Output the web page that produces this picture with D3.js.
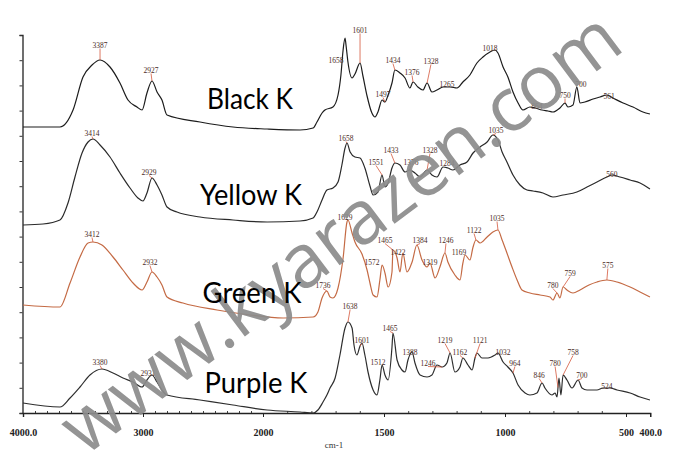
<!DOCTYPE html>
<html><head><meta charset="utf-8">
<script src="https://cdn.jsdelivr.net/npm/d3@7"></script>
<style>body{margin:0;background:#fff}svg{display:block}</style></head>
<body><svg id="chart" width="673" height="461"></svg>
<script>
// ---- data (wavenumber cm-1, relative intensity in stacked arbitrary units) ----
const xTickValues = [4000, 3000, 2000, 1500, 1000, 500, 400];
const xTickLabels = ["4000.0", "3000", "2000", "1500", "1000", "500", "400.0"];
const seriesNames = ["Black K", "Yellow K", "Green K", "Purple K"];
const seriesColors = ["#1c1c1c", "#2a2a2a", "#c46a44", "#2e2e2e"];

const blackK = [[4000,143],[3692,143],[3583,151.5],[3500,168],[3425,174],[3358,176.5],[3275,173],[3192,165],[3125,156.5],[3050,153],[3008,151.5],[2967,160],[2925,166],[2883,160.5],[2842,156.5],[2800,149],[2525,145.5],[2250,143],[1983,142],[1847,141.5],[1793,142.5],[1777,145.5],[1756,150],[1744,151.5],[1711,153],[1690,159],[1678,169],[1669,181.5],[1661,187.5],[1657,184],[1649,175.5],[1632,167.5],[1620,169.5],[1599,175],[1587,168.5],[1570,158.5],[1550,150],[1537,148],[1525,150.5],[1508,156.5],[1496,155.5],[1483,159],[1467,165],[1455,171.5],[1434,170],[1413,167.5],[1393,162.5],[1380,165.5],[1360,163],[1339,161.5],[1322,165],[1302,160.5],[1281,161.5],[1256,163],[1227,163],[1198,162.5],[1174,165.5],[1145,169],[1116,175],[1091,178],[1062,180.5],[1041,181.5],[1029,180],[1008,173],[988,168],[967,160.5],[946,155],[926,151.5],[897,153],[876,152.5],[847,151.5],[822,151],[802,150.5],[773,152.5],[752,155],[740,153],[719,154],[703,163],[690,155],[670,155.5],[636,157],[607,158],[579,159],[554,157.5],[512,155],[471,153],[430,150.5],[401,149.5]];

const yellowK = [[4000,94],[3833,94.5],[3692,96.5],[3625,105],[3567,118],[3508,130],[3458,135.5],[3417,137],[3358,134],[3275,128],[3192,120],[3108,112.5],[3042,107.5],[3000,106],[2967,110],[2925,117.5],[2883,114],[2842,109],[2800,103],[2717,100.5],[2525,98],[2250,96.5],[1983,95.5],[1847,96],[1793,97.5],[1777,100.5],[1756,106.5],[1736,111.5],[1711,112.5],[1690,115.5],[1674,124],[1661,132.5],[1653,135],[1640,130.5],[1620,128],[1599,127.5],[1579,122.5],[1558,113.5],[1545,109],[1525,110.5],[1508,119],[1496,113],[1483,115],[1467,122.5],[1455,125],[1434,124],[1413,120.5],[1393,121.5],[1372,120],[1351,118],[1322,121.5],[1302,119],[1281,118],[1256,123],[1236,122.5],[1215,121.5],[1186,124],[1157,125.5],[1132,130],[1103,133],[1074,135.5],[1050,139],[1029,136.5],[1012,130.5],[992,125.5],[967,119],[938,114],[909,111.5],[884,111],[843,110],[802,108],[760,109],[703,110.5],[661,113],[620,115.5],[579,118],[558,119],[525,118],[483,116.5],[442,115],[401,112]];

const greenK = [[4000,54],[3692,53],[3608,65],[3525,78],[3458,85],[3417,85.5],[3342,84],[3250,78],[3167,71.5],[3083,65],[3008,61.5],[2967,65.5],[2925,70.5],[2883,68],[2842,64],[2800,58],[2667,55],[2383,51.5],[2108,49],[1917,47.5],[1793,48],[1773,50.5],[1756,57.5],[1736,61],[1723,58],[1711,57.5],[1690,62.5],[1669,77.5],[1653,95.5],[1649,96.5],[1632,90],[1620,85.5],[1591,79.5],[1570,71.5],[1558,65],[1545,59],[1529,58],[1517,66.5],[1508,74],[1496,70],[1483,63],[1467,70.5],[1463,81.5],[1446,77.5],[1434,70.5],[1422,80],[1405,70.5],[1384,75.5],[1364,84],[1343,76.5],[1322,73],[1310,75],[1289,67.5],[1269,73],[1248,80],[1236,75.5],[1207,69],[1186,66.5],[1174,75],[1165,79],[1145,76.5],[1132,83],[1120,86.5],[1103,85],[1074,88],[1050,90.5],[1029,91.5],[1012,86.5],[992,80],[971,73],[950,66.5],[930,61.5],[897,60],[855,59],[814,58],[802,56.5],[785,60],[773,57.5],[760,63],[744,61.5],[719,60],[690,61.5],[653,64],[620,65.5],[579,66.5],[537,65.5],[483,63],[442,60.5],[401,58]];

const purpleK = [[4000,5],[3692,3],[3608,7.5],[3525,13],[3442,19],[3342,22],[3250,20],[3167,17.5],[3083,15.5],[3008,13],[2967,16.5],[2925,19],[2883,15.5],[2842,11.5],[2800,9],[2525,6.5],[2250,4],[1983,1.5],[1847,0.5],[1793,0],[1773,1.5],[1752,5.5],[1736,9],[1723,12.5],[1702,17.5],[1682,29],[1661,42.5],[1649,45.5],[1632,42.5],[1624,34],[1612,29],[1599,33.5],[1591,35],[1579,29],[1566,20.5],[1545,11.5],[1529,9],[1517,16.5],[1508,24],[1496,19],[1483,16.5],[1467,33],[1463,40],[1446,26.5],[1426,21.5],[1413,20.5],[1401,26.5],[1384,30.5],[1372,25],[1351,19],[1322,18],[1302,19],[1281,24],[1260,23],[1240,25],[1227,30],[1207,20.5],[1186,23],[1174,27.5],[1153,24],[1136,21.5],[1124,27.5],[1116,30],[1095,27.5],[1070,27.5],[1041,29],[1029,30],[1008,25.5],[988,23],[967,20],[946,14],[917,10],[897,9],[868,10],[847,15],[835,12.5],[806,9],[793,10],[785,8],[777,17.5],[769,9],[760,19],[744,16.5],[723,12.5],[698,16.5],[682,12.5],[661,11.5],[620,11.5],[595,12.5],[566,12.5],[537,11.5],[483,10],[442,8],[401,6.5]];

// peak annotations: [label, peak wavenumber, label wavenumber, label height]
const blackPeaks = [["3387",3358,3358,184],["2927",2925,2933,171.5],["1658",1661,1698,176.5],["1601",1599,1599,191.5],["1497",1496,1504,159.5],["1434",1455,1463,176.5],["1376",1380,1384,170.5],["1328",1322,1306,176],["1265",1256,1240,164.5],["1018",1062,1062,182.5],["864",876,868,153.5],["750",752,752,159],["700",703,686,164.5],["561",579,570,158.5]];
const yellowPeaks = [["3414",3417,3425,140],["2929",2925,2950,120.5],["1658",1653,1657,137.5],["1551",1508,1533,125.5],["1433",1455,1471,131.5],["1376",1393,1388,125.5],["1328",1322,1310,131.5],["1284",1256,1240,125],["1035",1050,1037,141.5],["560",558,558,119.5]];
const greenPeaks = [["3412",3417,3425,89.5],["2932",2925,2942,75.5],["1736",1736,1752,64],["1629",1649,1661,98],["1572",1508,1550,75.5],["1465",1463,1496,86.5],["1422",1422,1442,80.5],["1384",1364,1351,86.5],["1319",1310,1310,75.5],["1246",1248,1244,86.5],["1169",1165,1190,80.5],["1122",1120,1128,91.5],["1035",1029,1033,97.5],["780",785,802,64],["759",760,731,70],["575",579,575,74]];
const purplePeaks = [["3380",3342,3358,25.5],["2931",2925,2958,20],["1638",1649,1640,53.5],["1601",1599,1591,36.5],["1512",1508,1525,25.5],["1465",1463,1475,42.5],["1388",1384,1393,30.5],["1246",1260,1318,25],["1219",1227,1248,36.5],["1162",1174,1186,30.5],["1121",1124,1103,36.5],["1032",1029,1008,30.5],["964",967,959,25],["846",847,859,19],["780",781,793,25],["758",760,719,30.5],["700",698,682,19],["524",566,579,13.5]];

const seriesData = [blackK, yellowK, greenK, purpleK];
const seriesPeaks = [blackPeaks, yellowPeaks, greenPeaks, purplePeaks];
const nameSpots = [[250,109,86],[251,205,102],[252,303,99],[256,393,103]]; // label anchor (x,baseline) & width
const watermark = "www.kyarazen.com";

// ---- drawing ----
const svg = d3.select("#chart");
const x = d3.scaleLinear().domain([4000, 2000, 400]).range([23, 263, 650.2]);
const y = d3.scaleLinear().domain([0, 189]).range([413, 35]);

function valueAt(data, wn) {
  for (let i = 0; i < data.length - 1; i++) {
    const a = data[i], b = data[i + 1];
    if (wn <= a[0] && wn >= b[0]) {
      const t = (a[0] - wn) / (a[0] - b[0] || 1);
      return a[1] + t * (b[1] - a[1]);
    }
  }
  return data[data.length - 1][1];
}

// axes
const yTicks = d3.range(0, 16).map(i => i * 12.6);
const gy = svg.append("g").attr("transform", "translate(22.5,0)")
  .call(d3.axisLeft(y).tickValues(yTicks).tickSize(3).tickFormat(""));
gy.select(".domain").attr("stroke", "#222").attr("stroke-width", 1.3);
gy.selectAll(".tick line").attr("stroke", "#333");

const minor = d3.range(3900, 399, -100).filter(v => !xTickValues.includes(v));
const gmin = svg.append("g").attr("transform", "translate(0,413)")
  .call(d3.axisTop(x).tickValues(minor).tickSize(2).tickFormat(""));
gmin.select(".domain").remove();
gmin.selectAll(".tick line").attr("stroke", "#444");

const gx = svg.append("g").attr("transform", "translate(0,413)")
  .call(d3.axisBottom(x).tickValues(xTickValues).tickSize(4)
    .tickFormat((d, i) => xTickLabels[i]).tickPadding(12));
gx.select(".domain").attr("stroke", "#222").attr("stroke-width", 1.4);
gx.selectAll(".tick line").attr("stroke", "#222");
gx.selectAll(".tick text").attr("font-family", "Liberation Serif, serif")
  .attr("font-size", 10).attr("font-weight", "bold").attr("fill", "#222");
svg.append("text").attr("x", 334).attr("y", 448).attr("text-anchor", "middle")
  .attr("font-family", "Liberation Serif, serif").attr("font-size", 9).attr("fill", "#333")
  .text("cm-1");

// spectra
const line = d3.line().x(d => x(d[0])).y(d => y(d[1])).curve(d3.curveMonotoneX);
seriesData.forEach((data, i) => {
  svg.append("path").datum(data).attr("d", line).attr("fill", "none")
    .attr("stroke", seriesColors[i]).attr("stroke-width", 1.2)
    .attr("stroke-linejoin", "round");
});

// peak annotations
seriesPeaks.forEach((peaks, i) => {
  const g = svg.append("g");
  peaks.forEach(p => {
    const [lab, pw, lw, lv] = p;
    const cy = y(valueAt(seriesData[i], pw));
    const ly = y(lv);
    if (cy > ly + 4) {
      g.append("line").attr("x1", x(lw)).attr("y1", ly + 3.5)
        .attr("x2", x(pw)).attr("y2", cy)
        .attr("stroke", "#d4583c").attr("stroke-width", 0.8);
    }
    g.append("text").attr("x", x(lw)).attr("y", ly).attr("dy", "0.35em")
      .attr("text-anchor", "middle").attr("font-family", "Liberation Serif, serif")
      .attr("font-size", 7.5).attr("fill", "#4a2a24").text(lab);
  });
});

// watermark
svg.append("text").attr("transform", "translate(340,232) rotate(-37)")
  .attr("text-anchor", "middle").attr("dy", "0.35em")
  .attr("font-family", "Open Sans, sans-serif").attr("font-size", 75)
  .attr("fill", "#8c8c8c").attr("opacity", 0.93).text(watermark);

// series names
seriesNames.forEach((n, i) => {
  const [cx, by, w] = nameSpots[i];
  svg.append("text").attr("x", cx - w / 2).attr("y", by)
    .attr("font-family", "Lato, sans-serif").attr("font-size", 29)
    .attr("textLength", w).attr("lengthAdjust", "spacingAndGlyphs")
    .attr("fill", "#000").text(n);
});
</script></body></html>
